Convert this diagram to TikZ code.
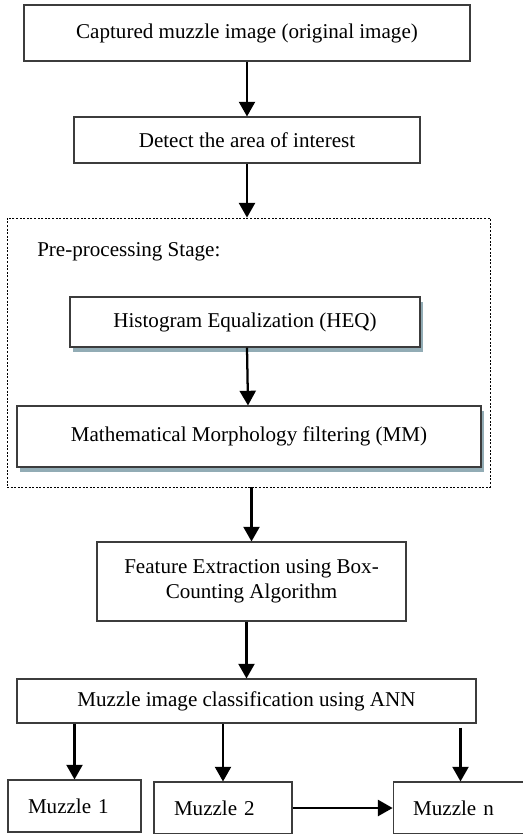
\documentclass[tikz,border=0pt]{standalone}
\usepackage{fontspec}
\setmainfont{Liberation Serif}
\usetikzlibrary{positioning}
\usetikzlibrary{shadows}
\usetikzlibrary {arrows.meta}
\definecolor{shadowblue}{RGB}{146,172,181}
\definecolor{boxline}{RGB}{60,60,60}
\tikzset{stepbox/.style={rectangle,draw=boxline,fill=white,line width=0.8pt,
inner sep=2pt,font=\fontsize{15.8}{18.8}\selectfont}}
\tikzset{shadowbox/.style={stepbox,drop shadow={shadow xshift=2pt,shadow yshift=-4pt,
fill=shadowblue,opacity=1}}}
\tikzset{stagebox/.style={rectangle,draw=black,line width=0.6pt,
dash pattern=on 1.5pt off 1.2pt,minimum width=362.25pt,minimum height=201.75pt}}
\tikzset{muzzlebox/.style={stepbox,align=left,inner xsep=15pt,text width=73.5pt,
minimum height=39pt}}
\tikzset{flow/.style={line width=1.7pt,-{Triangle[width=12pt,length=11pt]}}}

\begin{document}
\begin{tikzpicture}[x=0.75pt,y=-0.75pt]
    \useasboundingbox (0,0) rectangle (523,834);

        \node[stepbox,minimum width=334.5pt,minimum height=42pt] (capture) at (247, 33) {Captured muzzle image (original image)};
        \node[stepbox,minimum width=259.5pt,minimum height=34.5pt] (detect) at (247, 140) {Detect the area of interest};

        \node[stagebox] (stage) at (248.5, 352.5) {};
        \node[font=\fontsize{15.8}{18.8}\selectfont,anchor=west,inner sep=0pt] (stagetitle) at (37, 252) {Pre-processing Stage:};

        \node[shadowbox,minimum width=262.5pt,minimum height=37.5pt] (heq) at (245, 322) {Histogram Equalization (HEQ)};
        \node[shadowbox,minimum width=348pt,minimum height=45.75pt] (mm) at (249, 436.5) {Mathematical Morphology filtering (MM)};

        \node[stepbox,minimum width=231.75pt,minimum height=59.25pt,align=center] (feature) at (251.5, 581.5) {Feature Extraction using Box-\\Counting Algorithm};
        \node[stepbox,minimum width=344.25pt,minimum height=33pt] (ann) at (246.5, 701) {Muzzle image classification using ANN};

        \node[muzzlebox,text width=69.75pt] (muzzleA) at (74.5, 806) {Muzzle 1};
        \node[muzzlebox] (muzzleB) at (223, 808) {Muzzle 2};
        \node[muzzlebox,text width=80pt] (muzzleN) at (466.5, 808) {Muzzle n};

        \draw [flow] (capture) -- (detect);
        \draw [flow] (detect) -- (stage.north -| detect.south);
        \draw [flow] ([xshift=1.5pt]heq.south) -- ([xshift=-0.75pt]mm.north);
        \draw [flow] (feature.north |- stage.south) -- (feature.north);
        \draw [flow] (ann.north |- feature.south) -- (ann.north);

        \draw [flow] (muzzleA.north |- ann.south) -- (muzzleA.north);
        \draw [flow] (muzzleB.north |- ann.south) -- (muzzleB.north);
        \draw [flow] ([xshift=-4.5pt,yshift=-3pt]muzzleN.north |- ann.south) -- ([xshift=-4.5pt]muzzleN.north);
        \draw [flow] (muzzleB) -- (muzzleN);

\end{tikzpicture}
\end{document}
